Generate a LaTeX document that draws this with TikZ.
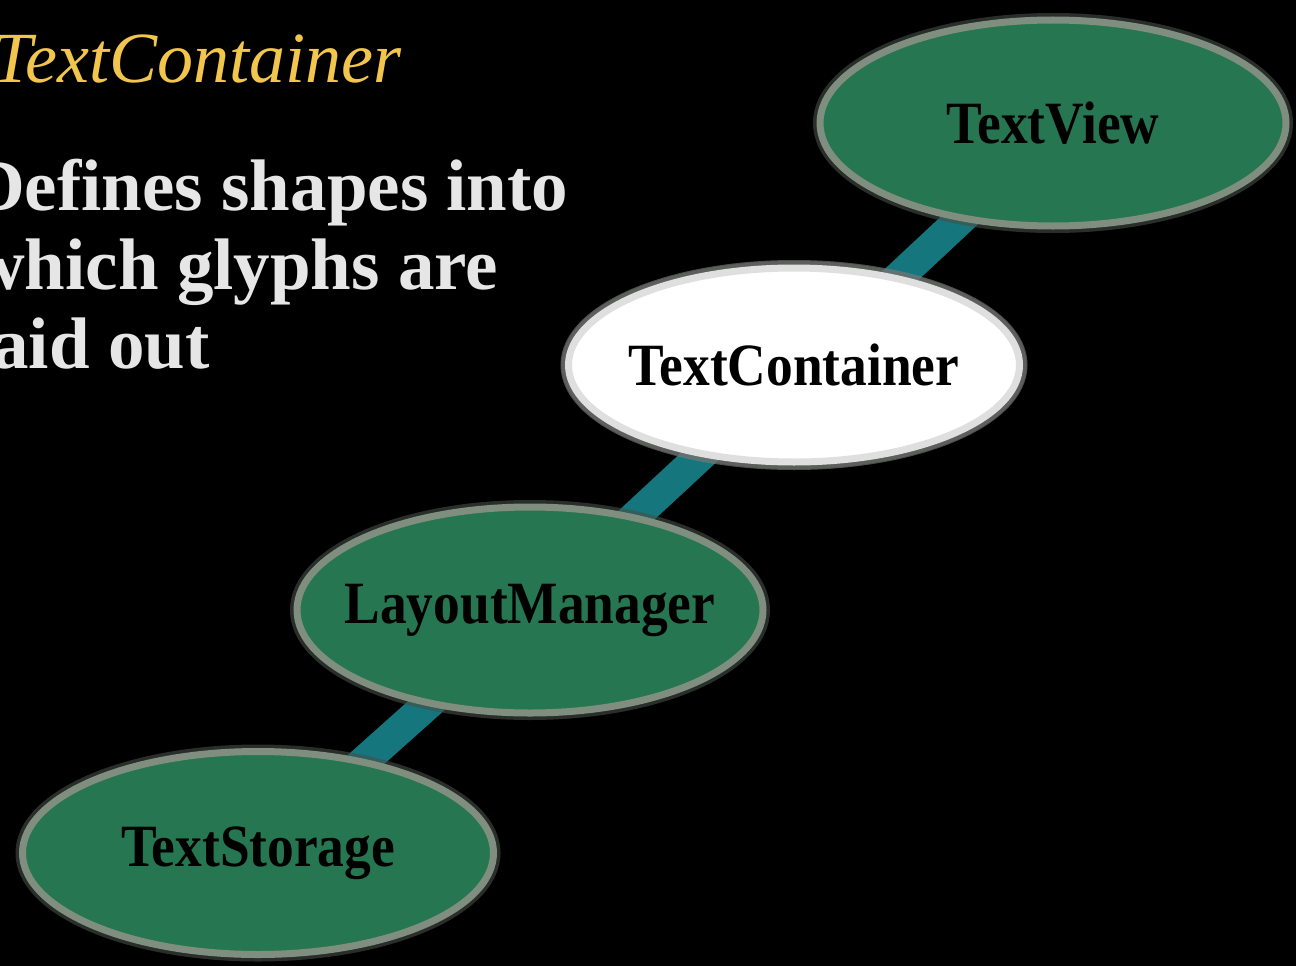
\documentclass[tikz,border=0pt]{standalone}
\usepackage{fontspec}
\usepackage{graphicx}
\setmainfont{Liberation Serif}
\usetikzlibrary{shapes.geometric}
\pgfdeclarelayer{back}
\pgfdeclarelayer{mid}
\pgfsetlayers{back,mid,main}
\definecolor{ovalgreen}{RGB}{38,118,82}
\definecolor{rimgrey}{RGB}{128,142,128}
\definecolor{linkteal}{RGB}{22,118,126}
\definecolor{titleyellow}{RGB}{242,198,76}
\definecolor{bodygrey}{RGB}{230,230,230}
\tikzset{
  oval/.style={ellipse, inner sep=0pt, minimum width=466pt, minimum height=206pt,
    fill=ovalgreen, draw=rimgrey, line width=7pt,
    preaction={draw=rimgrey!55!black, line width=14pt, opacity=0.6},
    font=\fontsize{60}{60}\selectfont\bfseries, text=black},
  ovalwhite/.style={oval, fill=white, draw=white!75!gray, minimum width=451pt, minimum height=194pt,
    preaction={draw=gray, line width=16pt, opacity=0.6}},
  link/.style={draw=linkteal, line width=31pt},
  bodytext/.style={anchor=base west, inner sep=0pt, text=bodygrey,
    font=\fontsize{73}{79}\selectfont\bfseries},
  titletext/.style={anchor=base west, inner sep=0pt, text=titleyellow,
    font=\fontsize{72}{72}\selectfont\itshape}
}
\newcommand{\sq}[1]{\makebox[0pt]{\scalebox{0.89}[1]{#1}}}
\begin{document}
\begin{tikzpicture}[x=1pt,y=-1pt]
\begin{pgfonlayer}{back}
  \fill[black] (0,0) rectangle (1296,966);
\end{pgfonlayer}
\useasboundingbox (0,0) rectangle (1296,966);

\node[titletext] (title) at (-8,82) {TextContainer};
\node[bodytext] (d1) at (-28,210) {Defines shapes into};
\node[bodytext] (d2) at (-28,289) {which glyphs are};
\node[bodytext] (d3) at (-28,368) {laid out};

\node[oval] (tv) at (1053,123) {\sq{TextView}};
\node[ovalwhite] (tc) at (794,365) {\sq{TextContainer}};
\node[oval] (lm) at (530,610) {\sq{LayoutManager}};
\node[oval, minimum width=471pt, minimum height=203pt] (ts) at (258,853) {\sq{TextStorage}};

\begin{pgfonlayer}{mid}
  \draw[link] ([yshift=-10pt]tv.center) -- ([yshift=-10pt]tc.center);
  \draw[link] ([yshift=-4pt]tc.center) -- ([yshift=-4pt]lm.center);
  \draw[link] ([yshift=-3pt]lm.center) -- ([yshift=-3pt]ts.center);
\end{pgfonlayer}
\end{tikzpicture}
\end{document}
